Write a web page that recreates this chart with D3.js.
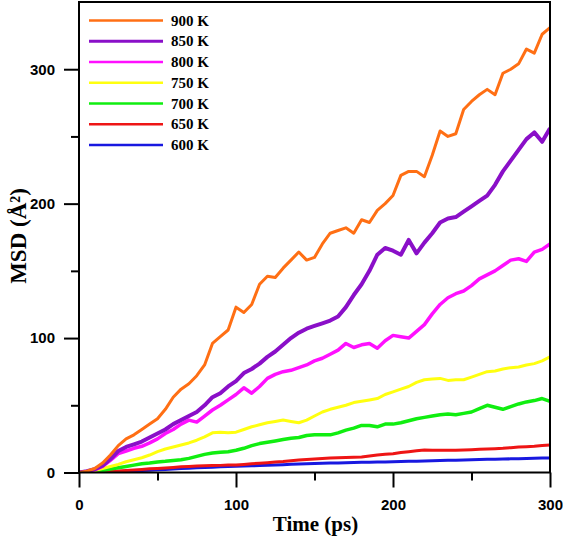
<!DOCTYPE html>
<html>
<head>
<meta charset="utf-8">
<script src="https://cdn.jsdelivr.net/npm/d3@7"></script>
<style>
  html, body { margin: 0; padding: 0; background: #fff; }
  svg { display: block; }
</style>
</head>
<body>
<svg id="chart" width="563" height="538"></svg>
<script>
// ---- data ----
const time = [0,5,10,15,20,25,30,35,40,45,50,55,60,65,70,75,80,85,90,95,100,105,110,115,120,125,130,135,140,145,150,155,160,165,170,175,180,185,190,195,200,205,210,215,220,225,230,235,240,245,250,255,260,265,270,275,280,285,290,295,300];
const msd900 = [0,1,3,7,13,20,25,28,32,36,40,47,56,62,66,72,80,96,101,106,123,119,125,140,146,145,152,158,164,158,160,170,178,180,182,178,188,186,195,200,206,221,224,224,220,236,254,250,252,270,276,281,285,281,297,300,304,315,312,326,331];
const msd850 = [0,1,2.5,5,10,16,19,21,23,26,29,32,36,39,42,45,50,56,59,64,68,74,77,81,86,90,95,100,104,107,109,111,113,116,123,132,140,150,162,167,165,162,173,163,171,178,186,189,190,194,198,202,206,214,224,232,240,248,253,246,256];
const msd800 = [0,0.8,2,4.5,9,14,16,18,19.5,22,25,29,32,36,39,37.5,42,46.5,50,54,58,63,59,64,70,73,75,76,78,80,83,85,88,91,96,93,95,96,92.5,98,102,101,100,105,110,118,125,130,133,135,139,144,147,150,154,158,159,157,164,166,170];
const msd750 = [0,0.5,1.5,3,4.5,6,8,9.5,11,13,15.5,17.5,19,20.5,22,24,26.5,29.5,30,29.5,30,32,34,35.5,37,38,39,38,37,39,42,45,47,48.5,50,52,53,54,55,58,60,62,64,67,69,69.5,70,68.5,69,69,71,73,75,75.5,77,78,78.5,80,81,83,86];
const msd700 = [0,0.3,0.8,1.5,2.5,3.5,4.5,5.5,6.5,7,7.8,8.3,9,9.5,10.5,12,13.5,14.5,15,15.5,16.5,18,20,21.5,22.5,23.5,24.5,25.5,26,27.5,28,28,28,29.5,31.5,33,35,35,34,36,36,37,38.5,40,41,42,43,43.5,43,44,45,47.5,50,48.5,47,49,51,52.5,53.5,55,53];
const msd650 = [0,0.1,0.3,0.5,0.8,1.1,1.5,1.9,2.3,2.7,3,3.4,3.8,4.2,4.5,4.8,5,5.2,5.3,5.5,5.6,6,6.5,6.9,7.3,7.8,8.2,8.8,9.3,9.7,10,10.4,10.8,11,11.2,11.4,11.6,12.3,13,13.5,14,14.8,15.5,16.1,16.7,16.6,16.5,16.5,16.5,16.8,17,17.3,17.5,17.7,18,18.5,19,19.2,19.5,20,20.5];
const msd600 = [0,0.1,0.2,0.35,0.5,0.7,0.9,1.15,1.4,1.7,2,2.3,2.6,2.9,3.2,3.45,3.7,3.95,4.2,4.4,4.6,4.8,5,5.2,5.4,5.6,5.8,6.05,6.3,6.5,6.7,6.85,7,7.15,7.3,7.45,7.6,7.7,7.8,7.9,8,8.15,8.3,8.45,8.6,8.75,8.9,9.05,9.2,9.35,9.5,9.65,9.8,9.9,10,10.15,10.3,10.45,10.6,10.7,10.8];
const seriesLabels = ["900 K","850 K","800 K","750 K","700 K","650 K","600 K"];
const seriesColors = ["#ff6f14","#8a0fc8","#ff10ff","#ffff10","#10ee10","#ee1515","#1818e0"];
const seriesWidths = [3,4,3.5,3,3.5,3,3];
const xTicks = [0,100,200,300];
const yTicks = [0,100,200,300];
const xMinor = [50,150,250];
const yMinor = [50,150,250];

const seriesValues = [msd900,msd850,msd800,msd750,msd700,msd650,msd600];

// ---- layout ----
const svg = d3.select("#chart");
const L = 79, R = 550, T = 2, B = 472.5;
const x = d3.scaleLinear().domain([0,300]).range([L,R]);
const y = d3.scaleLinear().domain([0,350]).range([B,T]);

// lines (draw lowest first so top series overlay)
const line = d3.line().x((d,i)=>x(time[i])).y(d=>y(d));
const order = [6,5,4,3,2,1,0];
svg.append("clipPath").attr("id","clip").append("rect")
  .attr("x",L).attr("y",T).attr("width",R-L).attr("height",B-T);
const gLines = svg.append("g").attr("clip-path","url(#clip)");
order.forEach(k=>{
  gLines.append("path")
    .datum(seriesValues[k])
    .attr("fill","none")
    .attr("stroke",seriesColors[k])
    .attr("stroke-width",seriesWidths[k])
    .attr("stroke-linejoin","round")
    .attr("d",line);
});

// frame
svg.append("rect").attr("x",L).attr("y",T).attr("width",R-L).attr("height",B-T)
  .attr("fill","none").attr("stroke","#000").attr("stroke-width",2);

// axes
const xAxis = d3.axisBottom(x).tickValues(xTicks).tickSize(15).tickPadding(12).tickFormat(d3.format("d"));
const gx = svg.append("g").attr("transform",`translate(0,${B})`).call(xAxis);
const gxm = svg.append("g").attr("transform",`translate(0,${B})`).call(d3.axisBottom(x).tickValues(xMinor).tickSize(8).tickFormat(""));
const yAxis = d3.axisLeft(y).tickValues(yTicks).tickSize(15).tickPadding(9).tickFormat(d3.format("d"));
const gy = svg.append("g").attr("transform",`translate(${L},0)`).call(yAxis);
const gym = svg.append("g").attr("transform",`translate(${L},0)`).call(d3.axisLeft(y).tickValues(yMinor).tickSize(8).tickFormat(""));
[gx,gxm,gy,gym].forEach(g=>{
  g.select(".domain").remove();
  g.selectAll("line").attr("stroke","#000").attr("stroke-width",2);
  g.selectAll("text").attr("fill","#000")
    .style("font-family","'Liberation Sans', Arial, sans-serif")
    .style("font-weight","bold").style("font-size","15px");
});

// axis titles
svg.append("text").attr("x",315.5).attr("y",531).attr("text-anchor","middle")
  .style("font-family","'Liberation Serif','Times New Roman',serif").style("font-weight","bold").style("font-size","21px")
  .text("Time (ps)");
svg.append("text").attr("transform","translate(26,236) rotate(-90)").attr("text-anchor","middle")
  .style("font-family","'Liberation Serif','Times New Roman',serif").style("font-weight","bold").style("font-size","23px")
  .text("MSD (Å²)");

// legend
const lg = svg.append("g");
seriesLabels.forEach((lab,i)=>{
  const yy = 20.5 + i*20.75;
  lg.append("line").attr("x1",89).attr("x2",163).attr("y1",yy).attr("y2",yy)
    .attr("stroke",seriesColors[i]).attr("stroke-width",i===1?3:2.5);
  lg.append("text").attr("x",171).attr("y",yy+5)
    .style("font-family","'Liberation Serif','Times New Roman',serif").style("font-weight","bold").style("font-size","15px")
    .text(lab);
});
</script>
</body>
</html>
